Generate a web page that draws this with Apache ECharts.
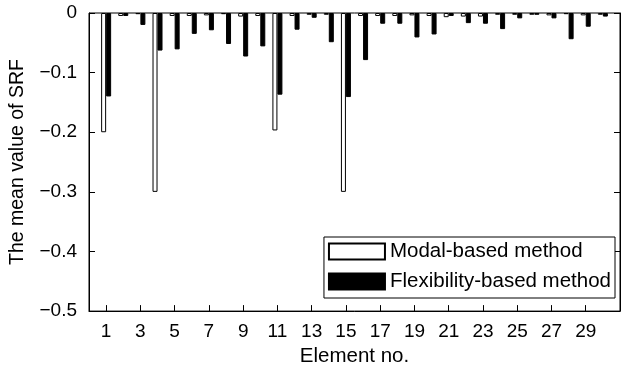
<html lang="en">
<head>
    <meta charset="UTF-8">
    <title>SRF</title>
    <style>
        html, body { margin: 0; padding: 0; background: #fff; }
    </style>
</head>
<body>
    <div id="container" style="width:621px;height:372px"></div>

    <script src="https://cdn.jsdelivr.net/npm/echarts@6/dist/echarts.min.js"></script>
    <script>
        // element numbers along the x axis
        var elements = [1, 2, 3, 4, 5, 6, 7, 8, 9, 10, 11, 12, 13, 14, 15,
            16, 17, 18, 19, 20, 21, 22, 23, 24, 25, 26, 27, 28, 29, 30];
        // labelled ticks
        var tickLabels = [1, 3, 5, 7, 9, 11, 13, 15, 17, 19, 21, 23, 25, 27, 29];

        var modalSRF = [-0.2, -0.005, -0.002, -0.3, -0.005, -0.005, -0.004, -0.002, -0.006, -0.005,
            -0.197, -0.005, -0.003, -0.003, -0.3, -0.005, -0.005, -0.005, -0.004, -0.005,
            -0.007, -0.006, -0.006, -0.003, -0.003, -0.003, -0.004, -0.002, -0.004, -0.003];
        var flexSRF = [-0.14, -0.005, -0.02, -0.063, -0.061, -0.035, -0.029, -0.052, -0.073, -0.056,
            -0.137, -0.028, -0.008, -0.049, -0.141, -0.079, -0.018, -0.018, -0.041, -0.036,
            -0.005, -0.017, -0.018, -0.027, -0.009, -0.003, -0.009, -0.044, -0.023, -0.006];

        paint();

        function paint(){
            var myChart = echarts.init(document.getElementById('container'));
            var font = 'Liberation Sans, Arial, Helvetica, sans-serif';

            // axis runs from 0 to 31, one category per integer
            var xCats = ['0'];
            elements.forEach(function(e){ xCats.push(String(e)); });
            xCats.push(String(elements.length + 1));

            function isLabelled(idx){
                return tickLabels.indexOf(idx) >= 0;
            }

            var option = {
                animation: false,
                backgroundColor: '#fff',
                textStyle: { fontFamily: font, color: '#000' },
                grid: {
                    left: 85, right: 1, top: 13, bottom: 59,
                    show: true, borderColor: '#000', borderWidth: 1
                },
                legend: {
                    orient: 'vertical',
                    right: 6,
                    top: 237,
                    padding: [4, 4, 6, 4],
                    itemGap: 9,
                    itemWidth: 56,
                    itemHeight: 16,
                    icon: 'rect',
                    selectedMode: false,
                    borderColor: '#000',
                    borderWidth: 1,
                    backgroundColor: '#fff',
                    textStyle: { fontFamily: font, fontSize: 20.5, color: '#000' },
                    data: ['Modal-based method', 'Flexibility-based method']
                },
                xAxis: {
                    type: 'category',
                    data: xCats,
                    boundaryGap: false,
                    name: 'Element no.',
                    nameLocation: 'middle',
                    nameGap: 31,
                    nameTextStyle: { fontFamily: font, fontSize: 20.5, color: '#000' },
                    axisLine: { onZero: false, lineStyle: { color: '#000', width: 1 } },
                    axisTick: {
                        inside: true, length: 6,
                        interval: function(idx){ return isLabelled(idx); },
                        lineStyle: { color: '#000' }
                    },
                    axisLabel: {
                        interval: function(idx){ return isLabelled(idx); },
                        margin: 11,
                        fontFamily: font, fontSize: 19, color: '#000'
                    },
                    splitLine: { show: false }
                },
                yAxis: [{
                    type: 'value',
                    min: -0.5, max: 0, interval: 0.1,
                    name: 'The mean value of SRF',
                    nameLocation: 'middle',
                    nameGap: 61,
                    nameTextStyle: { fontFamily: font, fontSize: 19.5, color: '#000' },
                    axisLine: { show: true, lineStyle: { color: '#000', width: 1 } },
                    axisTick: { show: true, inside: true, length: 6, lineStyle: { color: '#000' } },
                    axisLabel: {
                        margin: 12,
                        fontFamily: font, fontSize: 19, color: '#000',
                        formatter: function(v){
                            if (Math.abs(v) < 1e-9) return '0';
                            return '\u2212' + Math.abs(v).toFixed(1);
                        }
                    },
                    splitLine: { show: false }
                }, {
                    type: 'value',
                    position: 'right',
                    min: -0.5, max: 0, interval: 0.1,
                    axisLine: { show: true, lineStyle: { color: '#000', width: 1 } },
                    axisTick: { show: true, inside: true, length: 6, lineStyle: { color: '#000' } },
                    axisLabel: { show: false },
                    splitLine: { show: false }
                }],
                series: [{
                    name: 'Modal-based method',
                    type: 'bar',
                    barWidth: 5,
                    barGap: '0%',
                    itemStyle: { color: '#fff', borderColor: '#000', borderWidth: 1 },
                    data: modalSRF.map(function(v, i){ return [elements[i], v]; })
                }, {
                    name: 'Flexibility-based method',
                    type: 'bar',
                    barWidth: 5,
                    barGap: '0%',
                    itemStyle: { color: '#000', borderColor: '#000', borderWidth: 1 },
                    data: flexSRF.map(function(v, i){ return [elements[i], v]; })
                }]
            };
            myChart.setOption(option);
        }
    </script>
</body>
</html>
